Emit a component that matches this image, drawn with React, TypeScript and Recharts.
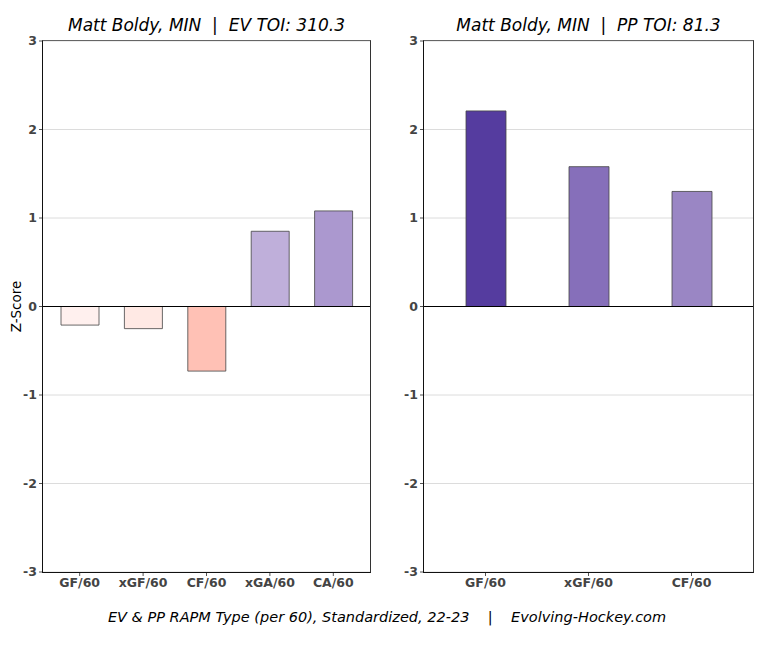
import { BarChart, Bar, XAxis, YAxis, CartesianGrid, ReferenceLine, Cell } from "recharts"

const evCategories = ["GF/60", "xGF/60", "CF/60", "xGA/60", "CA/60"]
const evValues = [-0.21, -0.25, -0.73, 0.85, 1.08]
const evColors = ["#fff0ee", "#ffe9e4", "#ffc1b5", "#bfafda", "#ab98cf"]

const ppCategories = ["GF/60", "xGF/60", "CF/60"]
const ppValues = [2.21, 1.58, 1.3]
const ppColors = ["#553c9f", "#866fba", "#9a86c4"]

const yTicks = [-3, -2, -1, 0, 1, 2, 3]

const FONT = "DejaVu Sans"
const tickStyle = { fontSize: 12.5, fontWeight: 700, fill: "#444", fontFamily: FONT }

function Panel({
  categories,
  values,
  colors,
  barSize,
  pad,
  width,
  showLabel,
}: {
  categories: string[]
  values: number[]
  colors: string[]
  barSize: number
  pad: number
  width: number
  showLabel: boolean
}) {
  const data = categories.map((c, i) => ({ name: c, value: values[i] }))
  return (
    <BarChart width={width} height={657} data={data} margin={{ top: 41, left: 0, right: 10, bottom: 55 }}>
      <CartesianGrid vertical={false} stroke="#dcdcdc" />
      <XAxis
        dataKey="name"
        tick={tickStyle}
        tickLine={{ stroke: "#555" }}
        tickSize={4}
        axisLine={false}
        height={30}
        interval={0}
        padding={{ left: pad, right: pad }}
      />
      <YAxis
        type="number"
        domain={[-3, 3]}
        ticks={yTicks}
        tick={tickStyle}
        tickLine={{ stroke: "#555" }}
        tickSize={4}
        axisLine={false}
        width={43}
        label={
          showLabel
            ? { value: "Z-Score", angle: -90, position: "insideLeft", offset: 16, style: { fontSize: 13.5, fill: "#000", fontFamily: FONT, textAnchor: "middle" } }
            : undefined
        }
      />
      <Bar dataKey="value" barSize={barSize} stroke="#444" strokeWidth={0.8} isAnimationActive={false}>
        {data.map((d, i) => (
          <Cell key={i} fill={colors[i]} />
        ))}
      </Bar>
      <ReferenceLine y={0} stroke="#000" strokeWidth={1} />
    </BarChart>
  )
}

const titleStyle: React.CSSProperties = {
  position: "absolute",
  top: 15,
  fontFamily: FONT,
  fontStyle: "italic",
  fontSize: 17,
  whiteSpace: "pre",
  textAlign: "center",
  color: "#000",
}

const frameStyle: React.CSSProperties = {
  position: "absolute",
  top: 40,
  height: 531,
  borderLeft: "1px solid #111",
  borderBottom: "1px solid #111",
  borderRight: "1px solid #333",
  borderTop: "1.5px solid #666",
  pointerEvents: "none",
}

export default function App() {
  return (
    <div style={{ position: "absolute", left: 0, top: 0, width: 764, height: 657, background: "#fff" }}>
      <div style={{ position: "absolute", left: 0, top: 0 }}>
        <Panel categories={evCategories} values={evValues} colors={evColors} barSize={38} pad={5} width={380} showLabel={true} />
      </div>
      <div style={{ position: "absolute", left: 381, top: 0 }}>
        <Panel categories={ppCategories} values={ppValues} colors={ppColors} barSize={40} pad={10} width={382} showLabel={false} />
      </div>
      <div style={{ ...frameStyle, left: 42, width: 327 }} />
      <div style={{ ...frameStyle, left: 423, width: 329 }} />
      <div style={{ ...titleStyle, left: 43, width: 327 }}>{"Matt Boldy, MIN  |  EV TOI: 310.3"}</div>
      <div style={{ ...titleStyle, left: 424, width: 329 }}>{"Matt Boldy, MIN  |  PP TOI: 81.3"}</div>
      <div
        style={{
          position: "absolute",
          top: 609,
          left: 0,
          width: 774,
          textAlign: "center",
          fontFamily: FONT,
          fontStyle: "italic",
          fontSize: 14.5,
          whiteSpace: "pre",
          color: "#000",
        }}
      >
        {"EV & PP RAPM Type (per 60), Standardized, 22-23    |    Evolving-Hockey.com"}
      </div>
    </div>
  )
}
